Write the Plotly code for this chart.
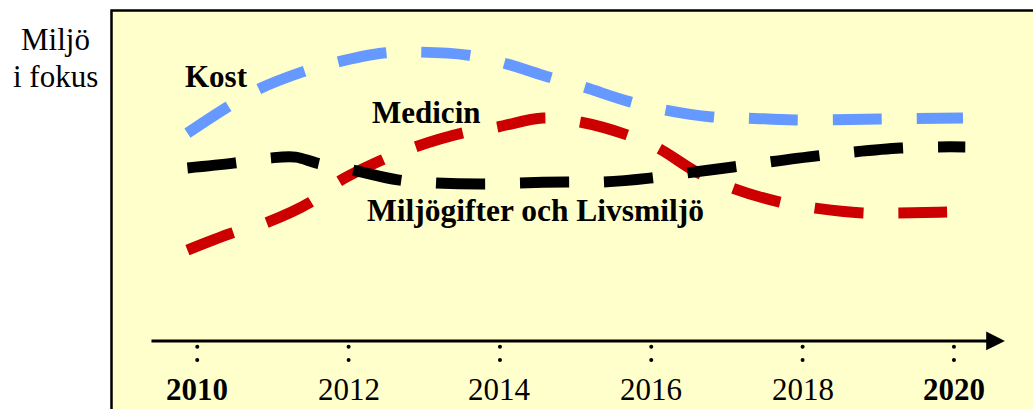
import plotly.graph_objects as go

# ---- data (focus level, arbitrary units) ----
kost_years = [2009.87, 2010.40, 2010.79, 2011.39, 2011.85, 2012.46, 2012.95, 2013.57, 2014.04,
              2014.64, 2015.10, 2015.72, 2016.18, 2016.80, 2017.28, 2017.90, 2019.02, 2020.12]
kost_vals = [6.93, 7.80, 8.37, 8.97, 9.30, 9.60, 9.63, 9.53, 9.27,
             8.80, 8.47, 7.97, 7.70, 7.47, 7.43, 7.37, 7.40, 7.43]

medicin_years = [2009.87, 2010.46, 2010.90, 2011.50, 2011.86, 2012.44, 2012.88, 2013.50, 2013.96, 2014.57,
                 2015.06, 2015.68, 2016.09, 2016.60, 2017.07, 2017.70, 2018.17, 2018.79, 2019.26, 2019.91]
medicin_vals = [3.03, 3.60, 3.93, 4.63, 5.30, 6.03, 6.47, 6.93, 7.13, 7.43,
                7.30, 6.87, 6.43, 5.63, 5.10, 4.63, 4.43, 4.27, 4.27, 4.30]

miljo_years = [2009.87, 2010.48, 2010.96, 2011.30, 2011.58, 2012.05, 2012.65, 2013.14, 2013.78, 2014.26, 2014.88,
               2015.36, 2015.98, 2016.47, 2017.08, 2017.57, 2018.19, 2018.67, 2019.29, 2019.80, 2020.15]
miljo_vals = [5.77, 5.93, 6.10, 6.13, 5.93, 5.70, 5.37, 5.27, 5.23, 5.27, 5.30,
              5.30, 5.43, 5.60, 5.80, 5.97, 6.17, 6.30, 6.43, 6.47, 6.47]

tick_years = [2010, 2012, 2014, 2016, 2018, 2020]
tick_labels = ["<b>2010</b>", "2012", "2014", "2016", "2018", "<b>2020</b>"]

series_names = ["Kost", "Medicin", "Miljögifter och Livsmiljö"]
series_colors = ["#6699FF", "#CC0000", "#000000"]

# ---- layout constants ----
X_RANGE = [2007.393, 2021.045]
Y_RANGE = [-2.267, 11.367]
FONT = "Liberation Serif, Times New Roman, serif"
FS = 31

fig = go.Figure()

for yrs, vals, name, col in zip([kost_years, medicin_years, miljo_years],
                                [kost_vals, medicin_vals, miljo_vals],
                                series_names, series_colors):
    fig.add_trace(go.Scatter(
        x=yrs, y=vals, mode="lines", name=name,
        line=dict(color=col, width=11, dash="49px,35px", shape="spline", smoothing=1.0),
        hoverinfo="skip", showlegend=False))

# tick dots (two dots under each labelled year)
fig.add_trace(go.Scatter(
    x=tick_years + tick_years,
    y=[-0.19] * len(tick_years) + [-0.63] * len(tick_years),
    mode="markers", marker=dict(color="black", size=4),
    hoverinfo="skip", showlegend=False, cliponaxis=False))

# background frame
fig.add_shape(type="rect", xref="paper", yref="paper",
              x0=111.5 / 1033, x1=1.05, y0=-0.05, y1=1 - 10.5 / 409,
              fillcolor="#FFFFCC", line=dict(color="black", width=2.5), layer="below")

annotations = []
# time arrow
annotations.append(dict(x=2020.674, y=0, ax=2009.375, ay=0, xref="x", yref="y",
                        axref="x", ayref="y", text="", showarrow=True,
                        arrowhead=2, arrowsize=1.25, arrowwidth=3, arrowcolor="black",
                        standoff=0, startstandoff=0))
# year labels
for yr, lab in zip(tick_years, tick_labels):
    annotations.append(dict(x=yr, y=(341 - 389.5) / 30, xref="x", yref="y", text=lab,
                            showarrow=False, font=dict(family=FONT, size=FS, color="black"),
                            xanchor="center", yanchor="middle"))
# series labels
label_pos = [(2010.25, 76.5), (2013.03, 112.5), (2014.47, 210.0)]
label_sizes = [31, 31, 31.5]
for name, (lx, py), fs in zip(series_names, label_pos, label_sizes):
    annotations.append(dict(x=lx, y=(341 - py) / 30, xref="x", yref="y", text="<b>" + name + "</b>",
                            showarrow=False, font=dict(family=FONT, size=fs, color="black"),
                            xanchor="center", yanchor="middle"))
# title at left
annotations.append(dict(x=55 / 1033, y=1 - 39.5 / 409, xref="paper", yref="paper", text="Miljö",
                        showarrow=False, font=dict(family=FONT, size=FS, color="black"),
                        xanchor="center", yanchor="middle"))
annotations.append(dict(x=55 / 1033, y=1 - 76.5 / 409, xref="paper", yref="paper", text="i fokus",
                        showarrow=False, font=dict(family=FONT, size=FS, color="black"),
                        xanchor="center", yanchor="middle"))

fig.update_layout(
    width=1033, height=409, autosize=False,
    margin=dict(l=0, r=0, t=0, b=0, pad=0),
    paper_bgcolor="white", plot_bgcolor="rgba(0,0,0,0)",
    xaxis=dict(range=X_RANGE, visible=False, fixedrange=True),
    yaxis=dict(range=Y_RANGE, visible=False, fixedrange=True),
    annotations=annotations,
    showlegend=False,
)

fig.write_html("out.html", config={"displayModeBar": False},
               post_script="document.body.style.margin='0';document.body.style.overflow='hidden';")
